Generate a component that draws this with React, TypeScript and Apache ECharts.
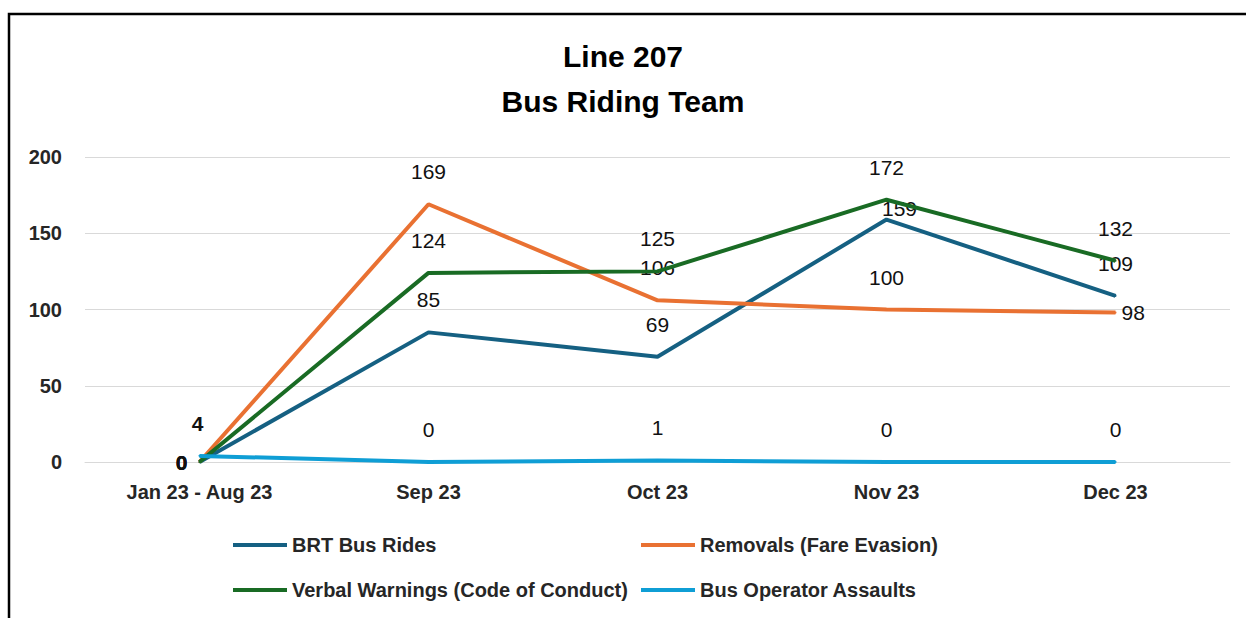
import React, { useEffect, useRef } from "react";
import * as echarts from "echarts";

const categories = ["Jan 23 - Aug 23", "Sep 23", "Oct 23", "Nov 23", "Dec 23"];
const brtBusRides = [0, 85, 69, 159, 109];
const removals = [0, 169, 106, 100, 98];
const verbalWarnings = [0, 124, 125, 172, 132];
const operatorAssaults = [4, 0, 1, 0, 0];
const seriesNames = [
  "BRT Bus Rides",
  "Removals (Fare Evasion)",
  "Verbal Warnings (Code of Conduct)",
  "Bus Operator Assaults",
];
const yTicks = { min: 0, max: 200, interval: 50 };

const colors = ["#156082", "#E97132", "#196B24", "#0F9ED5"];
const FONT = "'Liberation Sans', Arial, sans-serif";

function labelFor(seriesIdx: number, pointIdx: number) {
  const base: any = {
    show: true,
    position: "top",
    distance: 21,
    fontSize: 21,
    fontFamily: FONT,
    color: "#111111",
  };
  if (pointIdx === 0 && seriesIdx !== 3) {
    return { ...base, position: "left", distance: 11, fontWeight: "bold" };
  }
  if (seriesIdx === 3 && pointIdx === 0) {
    return { ...base, fontWeight: "bold", offset: [-2, 0] };
  }
  if (seriesIdx === 0 && pointIdx === 3) {
    return { ...base, position: "top", distance: 0, offset: [13, 0] };
  }
  if (seriesIdx === 1 && pointIdx === 4) {
    return { ...base, position: "right", distance: 5 };
  }
  return base;
}

export default function App() {
  const ref = useRef<HTMLDivElement>(null);
  useEffect(() => {
    if (!ref.current) return;
    const chart = echarts.init(ref.current, undefined, { renderer: "svg" });
    const allValues = [brtBusRides, removals, verbalWarnings, operatorAssaults];
    const series = allValues.map((vals, si) => ({
      name: seriesNames[si],
      type: "line",
      data: vals.map((v, pi) => ({ value: v, label: labelFor(si, pi) })),
      symbol: "circle",
      symbolSize: 2,
      showSymbol: true,
      lineStyle: { color: colors[si], width: 4 },
      itemStyle: { color: colors[si] },
      emphasis: { disabled: true },
      z: si === 3 ? 5 : 3 + (si === 2 ? 1 : 0),
    }));
    const legendText = {
      fontSize: 20,
      fontWeight: "bold",
      fontFamily: FONT,
      color: "#262626",
    };
    chart.setOption({
      animation: false,
      backgroundColor: "#ffffff",
      title: {
        text: "Line 207\nBus Riding Team",
        left: "center",
        top: 34,
        padding: [0, 0, 0, 16],
        textStyle: {
          fontSize: 30,
          fontWeight: "bold",
          fontFamily: FONT,
          color: "#000000",
          lineHeight: 45,
        },
      },
      graphic: [
        {
          type: "rect",
          shape: { x: 9, y: 14, width: 1400, height: 800 },
          style: { fill: "none", stroke: "#000000", lineWidth: 2.5 },
          silent: true,
          z: 100,
        },
      ],
      legend: [
        {
          orient: "vertical",
          left: 228,
          top: 530,
          itemWidth: 54,
          itemHeight: 4,
          itemGap: 25,
          icon: "rect",
          textStyle: legendText,
          data: [seriesNames[0], seriesNames[2]],
        },
        {
          orient: "vertical",
          left: 636,
          top: 530,
          itemWidth: 54,
          itemHeight: 4,
          itemGap: 25,
          icon: "rect",
          textStyle: legendText,
          data: [seriesNames[1], seriesNames[3]],
        },
      ],
      grid: { left: 85, right: 16, top: 157, bottom: 156, containLabel: false },
      xAxis: {
        type: "category",
        data: categories,
        boundaryGap: true,
        axisLine: { show: true, lineStyle: { color: "#d9d9d9", width: 1 } },
        axisTick: { show: false },
        axisLabel: {
          margin: 20,
          fontSize: 20,
          fontWeight: "bold",
          fontFamily: FONT,
          color: "#262626",
        },
      },
      yAxis: {
        type: "value",
        min: yTicks.min,
        max: yTicks.max,
        interval: yTicks.interval,
        axisLine: { show: false },
        axisTick: { show: false },
        splitLine: { lineStyle: { color: "#d9d9d9", width: 1 } },
        axisLabel: {
          margin: 23,
          fontSize: 20,
          fontWeight: "bold",
          fontFamily: FONT,
          color: "#262626",
        },
      },
      series,
    });
    return () => chart.dispose();
  }, []);
  return (
    <div
      ref={ref}
      style={{ position: "fixed", left: 0, top: 0, width: 1246, height: 618 }}
    />
  );
}
